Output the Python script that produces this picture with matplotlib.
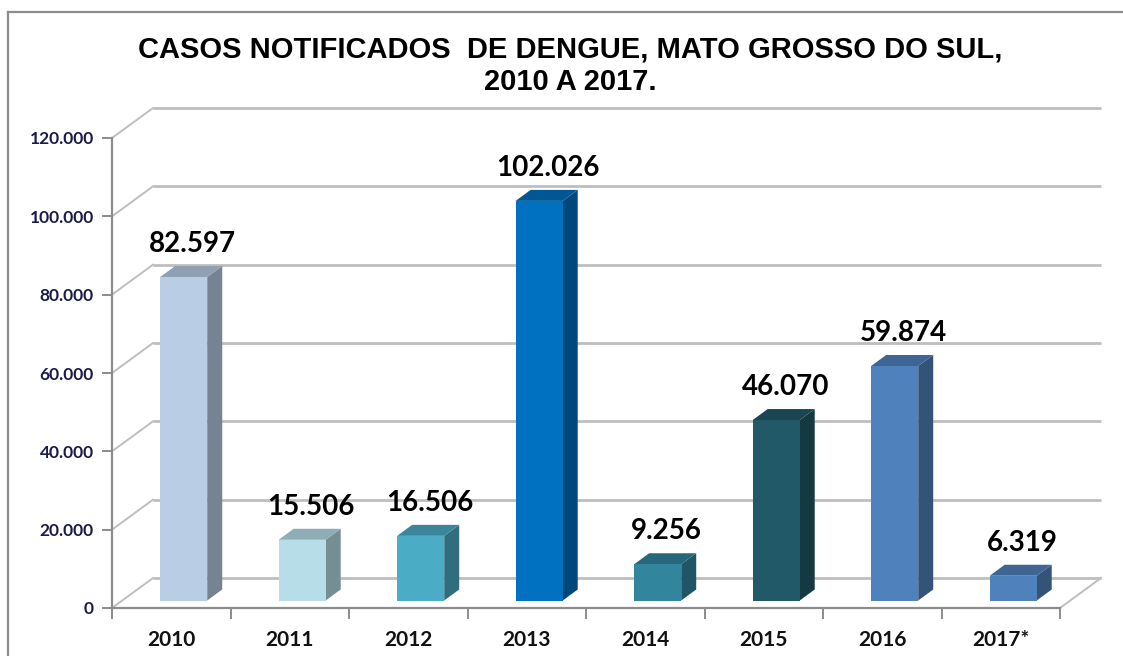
import matplotlib
matplotlib.use("Agg")
import matplotlib.pyplot as plt
from matplotlib.patches import Polygon
from matplotlib.lines import Line2D
import numpy as np

# ---- data ----
years = ["2010", "2011", "2012", "2013", "2014", "2015", "2016", "2017*"]
cases = [82597, 15506, 16506, 102026, 9256, 46070, 59874, 6319]
value_labels = ["82.597", "15.506", "16.506", "102.026", "9.256", "46.070", "59.874", "6.319"]
yticks = [0, 20000, 40000, 60000, 80000, 100000, 120000]
ytick_labels = ["0", "20.000", "40.000", "60.000", "80.000", "100.000", "120.000"]
front_colors = ["#B9CDE5", "#B7DEE8", "#4BACC6", "#0070C0", "#31859C", "#215968", "#4F81BD", "#4F81BD"]
title = "CASOS NOTIFICADOS  DE DENGUE, MATO GROSSO DO SUL,\n2010 A 2017."

W, H = 1123, 656
fig = plt.figure(figsize=(W / 100, H / 100), dpi=100)
fig.patch.set_facecolor("white")

# axes geometry (pixels)
ax_left, ax_right = 112, 1060
ax_top, ax_bot = 138, 608
ax = fig.add_axes([ax_left / W, (H - ax_bot) / H, (ax_right - ax_left) / W, (ax_bot - ax_top) / H])
n = len(years)
ax.set_xlim(0, n)
ax.set_ylim(0, 120000)
ax.set_facecolor("none")

px_x = (ax_right - ax_left) / n          # pixels per category unit
px_y = (ax_bot - ax_top) / 120000.0      # pixels per value unit

def dx(p):
    return p / px_x

def dy(p):
    return p / px_y

# depth of the chart walls
DX, DY = dx(41), dy(30)
grid_c = "#BEBEBE"
axis_c = "#8C8C8C"

# back wall grid lines and left wall diagonals
for v in yticks:
    ax.plot([DX, n + DX], [v + DY, v + DY], color=grid_c, lw=2.0, clip_on=False, zorder=0, solid_capstyle="butt")
    ax.plot([0, DX], [v, v + DY], color=grid_c, lw=1.4, clip_on=False, zorder=0)
# floor right edge
ax.plot([n, n + DX], [0, DY], color=grid_c, lw=1.4, clip_on=False, zorder=0)

# bars
centers = np.arange(n) + 0.5
base = dy(7.5)
bdx, bdy = dx(15), dy(11)

def shade(c, f):
    r, g, b = matplotlib.colors.to_rgb(c)
    return (r * f, g * f, b * f)

bars = ax.bar(centers + 0.105, cases, width=0.397, bottom=base, color=front_colors, zorder=3, linewidth=0)
for bar, col, lab in zip(bars, front_colors, value_labels):
    x0 = bar.get_x()
    x1 = x0 + bar.get_width()
    y0 = bar.get_y()
    y1 = y0 + bar.get_height()
    side = Polygon([(x1, y0), (x1 + bdx, y0 + bdy), (x1 + bdx, y1 + bdy), (x1, y1)],
                   closed=True, facecolor=shade(col, 0.64), edgecolor="none", zorder=2, clip_on=False)
    top = Polygon([(x0, y1), (x0 + bdx, y1 + bdy), (x1 + bdx, y1 + bdy), (x1, y1)],
                  closed=True, facecolor=shade(col, 0.78), edgecolor="none", zorder=2, clip_on=False)
    ax.add_patch(side)
    ax.add_patch(top)
    ax.text((x0 + x1) / 2 + bdx * 0.6, y1 + bdy + dy(14), lab, ha="center", va="baseline",
            fontsize=20, fontweight="bold", family="Lato", color="black", clip_on=False, zorder=5)

# axes styling
for s in ["top", "right"]:
    ax.spines[s].set_visible(False)
for s in ["left", "bottom"]:
    ax.spines[s].set_color(axis_c)
    ax.spines[s].set_linewidth(1.6)

ax.set_yticks(yticks)
ax.set_yticklabels(ytick_labels, fontsize=12.5, fontweight="bold", family="Lato", color="#1B1B4B")
ax.tick_params(axis="y", length=7, width=1.4, color=axis_c, pad=6)

ax.set_xticks(np.arange(n + 1))
ax.set_xticklabels([""] * (n + 1))
ax.tick_params(axis="x", which="major", length=8, width=1.4, color=axis_c, direction="out")
ax.set_xticks(centers, minor=True)
ax.set_xticklabels(years, minor=True, fontsize=15, fontweight="bold", family="Lato", color="#111111")
ax.tick_params(axis="x", which="minor", length=0, pad=16)

# title
fig.text(570 / W, 1 - 66 / H, title, ha="center", va="center", fontsize=21, fontweight="bold",
         family="Liberation Sans", linespacing=1.2, color="black")

# chart frame (left and top edges)
fig.add_artist(Line2D([8 / W, 8 / W], [0, 1 - 12 / H], color="#8C8C8C", lw=1.6, transform=fig.transFigure))
fig.add_artist(Line2D([8 / W, 1.01], [1 - 12 / H, 1 - 12 / H], color="#8C8C8C", lw=1.6, transform=fig.transFigure))

fig.savefig("out.png", dpi=100)
